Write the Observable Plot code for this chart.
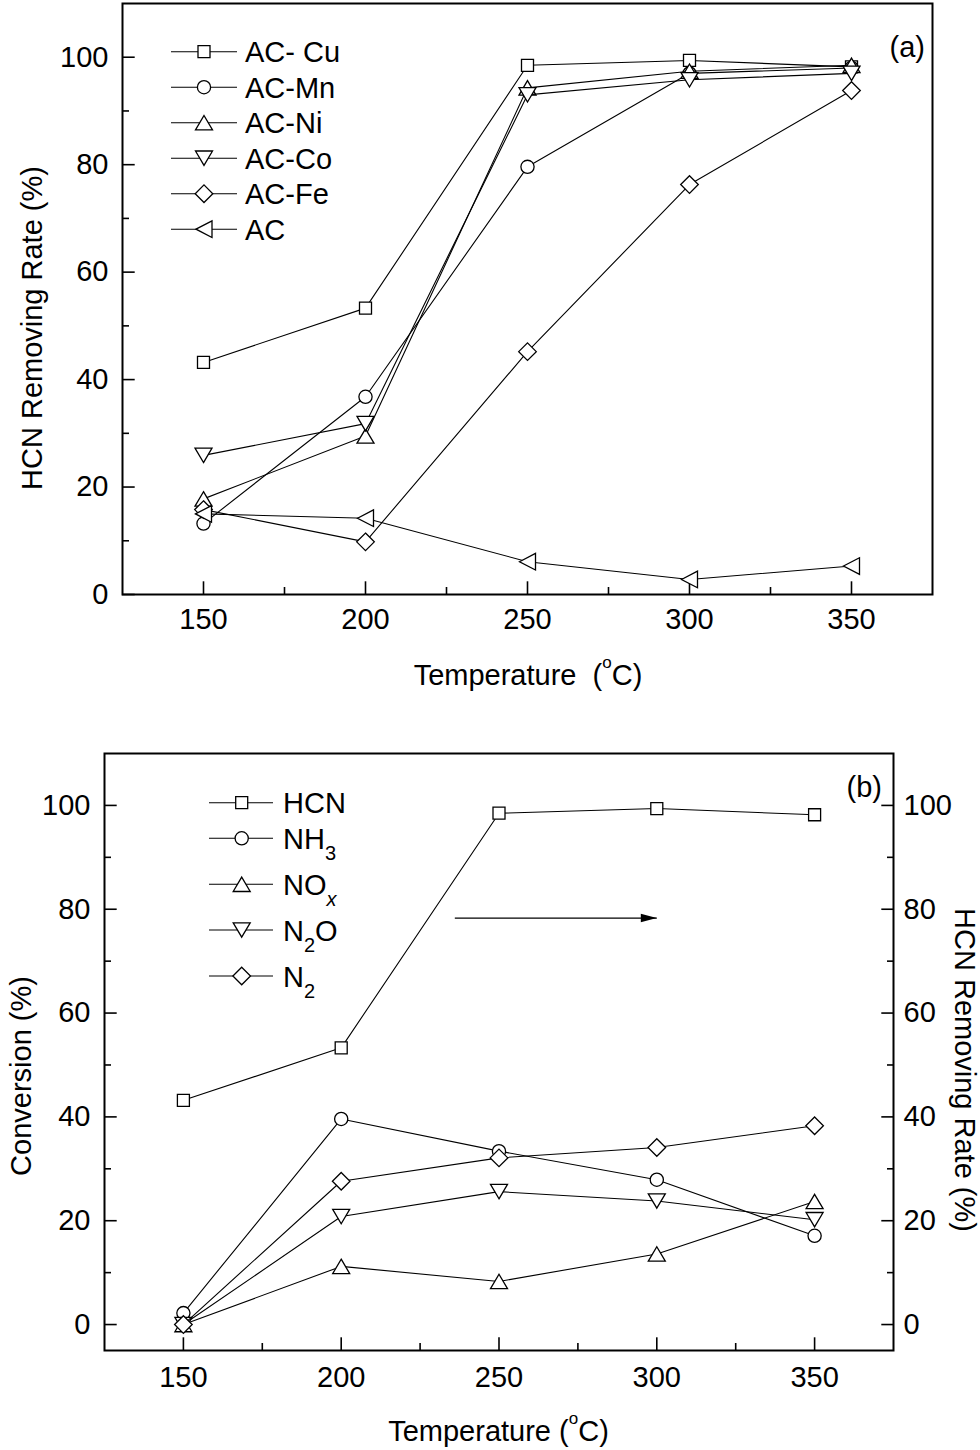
<!DOCTYPE html>
<html><head><meta charset="utf-8">
<script src="https://cdn.jsdelivr.net/npm/d3@7"></script>
<script src="https://cdn.jsdelivr.net/npm/@observablehq/plot@0.6"></script>
<style>
body{margin:0;background:#fff;}
#wrap{width:980px;}
#wrap svg{display:block;}
</style></head><body><div id="wrap"></div>
<script>
// ---------- data ----------
const temps = [150, 200, 250, 300, 350];

// panel (a): HCN removing rate (%)
const namesA = ["AC- Cu", "AC-Mn", "AC-Ni", "AC-Co", "AC-Fe", "AC"];
const acCu = [43.2, 53.3, 98.5, 99.4, 98.2];
const acMn = [13.2, 36.8, 79.6, 97.0, 98.0];
const acNi = [17.8, 29.5, 94.3, 97.4, 98.5];
const acCo = [25.9, 31.8, 93.0, 95.8, 97.0];
const acFe = [15.8, 9.8, 45.2, 76.3, 93.8];
const acOnly = [15.0, 14.2, 6.1, 2.8, 5.3];
const shapesA = ["square", "circle", "triUp", "triDown", "diamond", "triLeft"];

// panel (b): conversion (%)
const namesB = ["HCN", "NH_3", "NO_x", "N_2O", "N_2"];
const hcn = [43.2, 53.3, 98.5, 99.4, 98.2];
const nh3 = [2.2, 39.6, 33.4, 27.9, 17.1];
const nox = [0.0, 11.2, 8.3, 13.6, 23.7];
const n2o = [0.0, 20.8, 25.6, 23.8, 20.2];
const n2 = [0.0, 27.6, 32.1, 34.1, 38.3];
const shapesB = ["square", "circle", "triUp", "triDown", "diamond"];

// axes ticks
const xMajor = [150, 200, 250, 300, 350];
const xMinor = [175, 225, 275, 325];
const yMajor = [0, 20, 40, 60, 80, 100];
const yMinor = [10, 30, 50, 70, 90];

// arrow annotation in panel (b)
const arrowX = [236, 300];
const arrowY = 78.3;

// ---------- symbols ----------
function sym(fn) { return {draw(ctx, size) { const s = Math.sqrt(size / Math.PI) / 7; fn(ctx, s); }}; }
const SYM = {
  square: sym((c, s) => { const h = 6 * s; c.moveTo(-h, -h); c.lineTo(h, -h); c.lineTo(h, h); c.lineTo(-h, h); c.closePath(); }),
  circle: sym((c, s) => { const r = 6.6 * s; c.moveTo(r, 0); c.arc(0, 0, r, 0, 2 * Math.PI); c.closePath(); }),
  triUp: sym((c, s) => { const w = 8.5 * s, h = 7.2 * s; c.moveTo(0, -h); c.lineTo(w, h); c.lineTo(-w, h); c.closePath(); }),
  triDown: sym((c, s) => { const w = 8.5 * s, h = 7.2 * s; c.moveTo(0, h); c.lineTo(w, -h); c.lineTo(-w, -h); c.closePath(); }),
  triLeft: sym((c, s) => { const w = 8.3 * s, h = 8 * s; c.moveTo(-h, 0); c.lineTo(h, -w); c.lineTo(h, w); c.closePath(); }),
  diamond: sym((c, s) => { const d = 8.8 * s; c.moveTo(0, -d); c.lineTo(d, 0); c.lineTo(0, d); c.lineTo(-d, 0); c.closePath(); })
};
const arrowHead = {draw(c) { c.moveTo(0, 0); c.lineTo(-16, -4.2); c.lineTo(-16, 4.2); c.closePath(); }};

const FONT = "'Liberation Sans', Arial, Helvetica, sans-serif";
const FS = 29;

function seriesMarks(names, values, shapes) {
  const marks = [];
  names.forEach((n, i) => {
    const d = temps.map((t, j) => ({t, v: values[i][j]}));
    marks.push(Plot.line(d, {x: "t", y: "v", stroke: "black", strokeWidth: 1.1}));
    marks.push(Plot.dot(d, {x: "t", y: "v", symbol: SYM[shapes[i]], r: 7, fill: "white", stroke: "black", strokeWidth: 1.3}));
  });
  return marks;
}

function axesMarks(rightAxis, xPad) {
  const m = [
    Plot.axisX({ticks: xMajor, tickSize: -12.7, tickPadding: xPad, label: null, tickFormat: d => String(d), strokeWidth: 1.6}),
    Plot.axisX({ticks: xMinor, tickSize: -7, label: null, tickFormat: () => "", strokeWidth: 1.6}),
    Plot.axisY({ticks: yMajor, tickSize: -12.7, tickPadding: 26.7, label: null, tickFormat: d => String(d), strokeWidth: 1.6}),
    Plot.axisY({ticks: yMinor, tickSize: -7, label: null, tickFormat: () => "", strokeWidth: 1.6})
  ];
  if (rightAxis) {
    m.push(Plot.axisY({anchor: "right", ticks: yMajor, tickSize: -12.7, tickPadding: 22.7, label: null, tickFormat: d => String(d), strokeWidth: 1.6}));
    m.push(Plot.axisY({anchor: "right", ticks: yMinor, tickSize: -7, label: null, tickFormat: () => "", strokeWidth: 1.6}));
  }
  return m;
}

// rich text: "_c" => subscript (x italic), "^c" => superscript
function rich(textSel, str, subSize, subDy, supDy) {
  const parts = str.split(/([_^].)/).filter(p => p !== "");
  let shift = 0;
  parts.forEach(p => {
    const ts = textSel.append("tspan");
    if (p[0] === "_") {
      ts.text(p[1]).attr("font-size", subSize).attr("dy", subDy - shift);
      if (p[1] === "x") ts.attr("font-style", "italic");
      shift = subDy;
    } else if (p[0] === "^") {
      ts.text(p[1]).attr("font-size", subSize).attr("dy", supDy - shift);
      shift = supDy;
    } else {
      ts.text(p); if (shift) ts.attr("dy", -shift); shift = 0;
    }
  });
}

function legend(svg, names, shapes, rows, x1, x2, xm, xt) {
  const g = svg.append("g");
  names.forEach((n, i) => {
    const y = rows[i];
    g.append("line").attr("x1", x1).attr("x2", x2).attr("y1", y).attr("y2", y).attr("stroke", "black").attr("stroke-width", 1.1);
    const p = d3.path(); SYM[shapes[i]].draw(p, 49 * Math.PI);
    g.append("path").attr("d", p.toString()).attr("transform", `translate(${xm},${y})`).attr("fill", "white").attr("stroke", "black").attr("stroke-width", 1.3);
    const t = g.append("text").attr("x", xt).attr("y", y + 10.5).attr("font-size", FS).attr("font-family", FONT)
      .attr("fill", "black").attr("text-anchor", "start").style("white-space", "pre");
    rich(t, n, 20, 11, -17);
  });
}

function addText(svg, str, x, y, rotate, anchor) {
  const t = svg.append("text").attr("font-size", FS).attr("font-family", FONT).attr("fill", "black")
    .attr("text-anchor", anchor || "middle").style("white-space", "pre")
    .attr("transform", `translate(${x},${y})` + (rotate ? ` rotate(${rotate})` : ""));
  rich(t, str, 17, 11, -17);
  return t;
}

const style = {fontFamily: FONT, fontSize: FS + "px", color: "black", background: "white", overflow: "visible"};

// ---------- panel (a) ----------
const plotA = Plot.plot({
  width: 980, height: 720,
  marginLeft: 122, marginRight: 48, marginTop: 3, marginBottom: 126,
  x: {domain: [125, 375]},
  y: {domain: [0, 110]},
  style,
  marks: [
    ...axesMarks(false, 26.7),
    ...seriesMarks(namesA, [acCu, acMn, acNi, acCo, acFe, acOnly], shapesA),
    Plot.frame({stroke: "black", strokeWidth: 2})
  ]
});
const svgA = d3.select(plotA);
legend(svgA, namesA, shapesA, namesA.map((_, i) => 51.7 + i * 35.5), 171, 237, 204, 245);
addText(svgA, "HCN Removing Rate (%)", 42, 328, -90);
addText(svgA, "Temperature  (^oC)", 528, 685, 0);
addText(svgA, "(a)", 925, 57, 0, "end");

// ---------- panel (b) ----------
const plotB = Plot.plot({
  width: 980, height: 730,
  marginLeft: 104, marginRight: 87, marginTop: 33, marginBottom: 100,
  x: {domain: [125, 375]},
  y: {domain: [-5, 110]},
  style,
  marks: [
    ...axesMarks(true, 28.7),
    ...seriesMarks(namesB, [hcn, nh3, nox, n2o, n2], shapesB),
    Plot.link([{x1: arrowX[0], x2: arrowX[1], y: arrowY}], {x1: "x1", x2: "x2", y1: "y", y2: "y", stroke: "black", strokeWidth: 1.2}),
    Plot.dot([{x: arrowX[1], y: arrowY}], {x: "x", y: "y", symbol: arrowHead, r: 7, fill: "black", stroke: "none"}),
    Plot.frame({stroke: "black", strokeWidth: 2})
  ]
});
const svgB = d3.select(plotB);
legend(svgB, namesB, shapesB, [82.7, 118.3, 164.3, 210, 256], 209, 273, 241.7, 283);
addText(svgB, "Conversion (%)", 31, 356, -90);
addText(svgB, "HCN Removing Rate (%)", 955, 350, 90);
addText(svgB, "Temperature (^oC)", 498.5, 721, 0);
addText(svgB, "(b)", 882, 77, 0, "end");

document.getElementById("wrap").append(plotA, plotB);
</script>
</body></html>
